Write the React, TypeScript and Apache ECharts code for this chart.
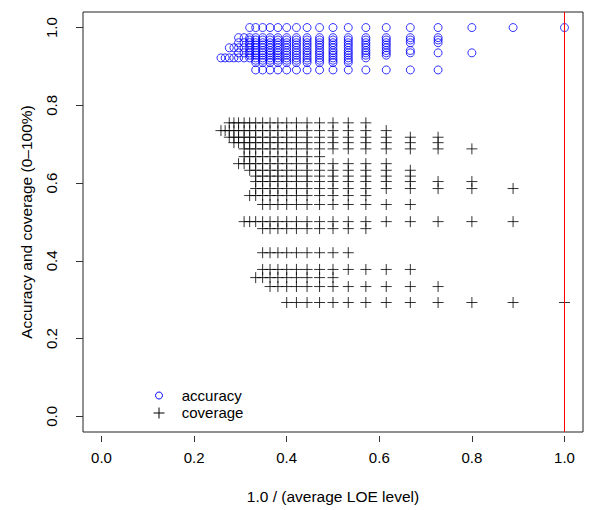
import { useEffect, useRef } from "react";
import * as echarts from "echarts";

// x positions: 1.0 / (average LOE level)
const loeX = [1.0, 0.889, 0.8, 0.727, 0.667, 0.615, 0.571, 0.533, 0.5, 0.471, 0.444, 0.421, 0.4, 0.381, 0.364, 0.348, 0.333, 0.32, 0.308, 0.296, 0.286, 0.276, 0.267, 0.258];

// accuracy rows: level, first and last x at which it occurs
const accuracyLevels = [1.0, 0.974, 0.968, 0.961, 0.955, 0.948, 0.941, 0.935, 0.929, 0.922, 0.916, 0.91, 0.891];
const accuracyFromX = [0.32, 0.296, 0.32, 0.296, 0.32, 0.276, 0.32, 0.296, 0.32, 0.258, 0.333, 0.333, 0.333];
const accuracyToX = [1.0, 0.727, 0.727, 0.727, 0.615, 0.615, 0.667, 0.8, 0.615, 0.571, 0.533, 0.533, 0.727];

// coverage rows: level, first and last x at which it occurs
const coverageLevels = [0.755, 0.735, 0.718, 0.704, 0.688, 0.668, 0.65, 0.633, 0.618, 0.604, 0.586, 0.568, 0.545, 0.501, 0.483, 0.421, 0.378, 0.357, 0.334, 0.293];
const coverageFromX = [0.276, 0.258, 0.276, 0.286, 0.308, 0.308, 0.296, 0.32, 0.333, 0.333, 0.333, 0.32, 0.348, 0.308, 0.348, 0.348, 0.348, 0.333, 0.364, 0.4];
const coverageToX = [0.571, 0.615, 0.727, 0.727, 0.8, 0.471, 0.615, 0.667, 0.667, 0.8, 0.889, 0.571, 0.667, 0.889, 0.571, 0.533, 0.667, 0.5, 0.727, 1.0];

const xTicks = [0, 0.2, 0.4, 0.6, 0.8, 1.0];
const yTicks = [0, 0.2, 0.4, 0.6, 0.8, 1.0];
const refLineX = 1.0;

const FONT = "'Liberation Sans', Arial, Helvetica, sans-serif";

function rowsToPoints(levels: number[], fromX: number[], toX: number[]) {
  const pts: number[][] = [];
  levels.forEach((lv, i) => {
    loeX.forEach((x) => {
      if (x >= fromX[i] - 1e-9 && x <= toX[i] + 1e-9) pts.push([x, lv]);
    });
  });
  return pts;
}

export default function App() {
  const ref = useRef<HTMLDivElement>(null);
  useEffect(() => {
    if (!ref.current) return;
    const chart = echarts.init(ref.current, null, { renderer: "svg" });
    const accuracy = rowsToPoints(accuracyLevels, accuracyFromX, accuracyToX);
    const coverage = rowsToPoints(coverageLevels, coverageFromX, coverageToX);
    chart.setOption({
      animation: false,
      backgroundColor: "#ffffff",
      textStyle: { fontFamily: FONT },
      grid: {
        left: 83,
        right: 17,
        top: 12,
        bottom: 78,
        show: true,
        borderColor: "#222",
        borderWidth: 1,
        backgroundColor: "transparent",
      },
      xAxis: {
        type: "value",
        min: -0.04,
        max: 1.04,
        offset: 4,
        axisLine: { show: false, onZero: false },
        splitLine: { show: false },
        axisTick: { show: true, inside: false, customValues: xTicks, length: 6, lineStyle: { color: "#333", width: 1 } },
        axisLabel: {
          customValues: xTicks,
          formatter: (v: number) => v.toFixed(1),
          fontSize: 15,
          color: "#000",
          fontFamily: FONT,
          margin: 14,
        },
        name: "1.0 / (average LOE level)",
        nameLocation: "middle",
        nameGap: 52,
        nameTextStyle: { fontSize: 15.5, color: "#000", fontFamily: FONT },
      },
      yAxis: {
        type: "value",
        min: -0.04,
        max: 1.04,
        axisLine: { show: false, onZero: false },
        splitLine: { show: false },
        axisTick: { show: true, inside: false, customValues: yTicks, length: 7, lineStyle: { color: "#333", width: 1 } },
        axisLabel: {
          customValues: yTicks,
          formatter: (v: number) => v.toFixed(1),
          rotate: 90,
          fontSize: 15,
          color: "#000",
          fontFamily: FONT,
          margin: 24,
        },
        name: "Accuracy and coverage (0–100%)",
        nameLocation: "middle",
        nameGap: 49,
        nameTextStyle: { fontSize: 15.5, color: "#000", fontFamily: FONT },
      },
      series: [
        {
          name: "accuracy",
          type: "scatter",
          data: accuracy,
          symbol: "circle",
          symbolSize: 8,
          itemStyle: { color: "rgba(0,0,0,0)", borderColor: "#0000ff", borderWidth: 1 },
        },
        {
          name: "coverage",
          type: "scatter",
          data: coverage,
          symbol: "path://M0,5L10,5M5,0L5,10",
          symbolSize: 11,
          itemStyle: { color: "rgba(0,0,0,0)", borderColor: "#000000", borderWidth: 1 },
          markLine: {
            silent: true,
            symbol: ["none", "none"],
            label: { show: false },
            lineStyle: { color: "#ff0000", width: 1, type: "solid" },
            data: [{ xAxis: refLineX }],
          },
        },
      ],
      graphic: [
        {
          type: "circle",
          shape: { cx: 159, cy: 395.5, r: 3.5 },
          style: { fill: "none", stroke: "#0000ff", lineWidth: 1 },
        },
        {
          type: "line",
          shape: { x1: 153.5, y1: 413, x2: 164.5, y2: 413 },
          style: { stroke: "#000", lineWidth: 1 },
        },
        {
          type: "line",
          shape: { x1: 159, y1: 407.5, x2: 159, y2: 418.5 },
          style: { stroke: "#000", lineWidth: 1 },
        },
        {
          type: "text",
          x: 181.7,
          y: 395,
          style: { text: "accuracy", fontSize: 15, fontFamily: FONT, fill: "#000", verticalAlign: "middle", align: "left" },
        },
        {
          type: "text",
          x: 181.7,
          y: 412.5,
          style: { text: "coverage", fontSize: 15, fontFamily: FONT, fill: "#000", verticalAlign: "middle", align: "left" },
        },
      ],
    });
    return () => chart.dispose();
  }, []);
  return (
    <div
      ref={ref}
      style={{ position: "fixed", left: 0, top: 0, width: 600, height: 510, background: "#fff" }}
    />
  );
}
